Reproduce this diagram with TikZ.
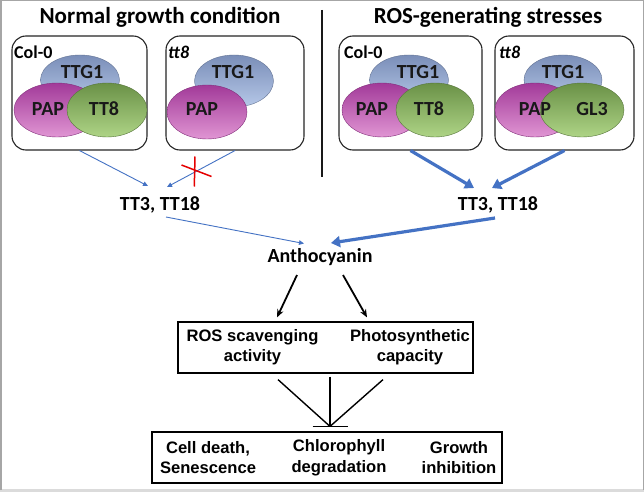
\documentclass[tikz,border=0pt]{standalone}
\usepackage{fontspec}
\setmainfont{Carlito}
\newfontfamily\arialf{Liberation Sans}
\usetikzlibrary{arrows.meta,shapes.geometric}
\definecolor{obl}{HTML}{4472C4}
\definecolor{ttgA}{HTML}{7A8EB8}
\definecolor{ttgB}{HTML}{B6C8E8}
\definecolor{papA}{HTML}{A23A99}
\definecolor{papB}{HTML}{E095D3}
\definecolor{grnA}{HTML}{6A9147}
\definecolor{grnB}{HTML}{AED486}
\begin{document}
\begin{tikzpicture}[x=1pt,y=-1pt,
  frame/.style={draw=black!85, line width=1.1pt, rounded corners=14pt, inner sep=0pt},
  ellbase/.style={ellipse, inner sep=0pt, shading angle=45, line width=0.4pt},
  ttg/.style={ellbase, draw=ttgA!80!black, top color=ttgA, bottom color=ttgB, minimum width=79pt, minimum height=50pt},
  pap/.style={ellbase, draw=papA!80!black, top color=papA, bottom color=papB, minimum width=84pt, minimum height=54pt},
  grn/.style={ellbase, draw=grnA!80!black, top color=grnA, bottom color=grnB, minimum width=80pt, minimum height=54pt},
  etxt/.style={font=\bfseries\fontsize{20}{22}\selectfont, text=black!90, inner sep=0pt},
  lbl/.style={font=\bfseries\fontsize{18}{20}\selectfont, inner sep=0pt, anchor=west},
  title/.style={font=\bfseries\fontsize{23}{26}\selectfont, inner sep=0pt},
  gene/.style={font=\bfseries\fontsize{20}{23}\selectfont, inner sep=0pt},
  thin/.style={draw=obl, line width=0.9pt, -{Triangle[length=5pt,width=4.5pt]}},
  thick/.style={draw=obl, line width=3.2pt, -{Triangle[length=9pt,width=11pt]}},
  blk/.style={draw=black, line width=1.8pt, -{Stealth[length=8pt,width=6.5pt]}},
  inhl/.style={draw=black, line width=1.4pt},
  btxt/.style={font=\arialf\bfseries\fontsize{16.6}{20.5}\selectfont, align=center, inner sep=0pt},
  sbox/.style={draw=black, line width=1.2pt, inner sep=0pt}
]
\useasboundingbox (0,0) rectangle (644,492);
\fill[white] (0,0) rectangle (644,492);
\fill[black!14] (0,488.5) rectangle (644,492);
\draw[black!35, line width=1.5pt] (0.75,490) -- (0.75,0.75) -- (643.25,0.75) -- (643.25,490);

% titles
\node[title] (t1) at (160,17) {Normal growth condition};
\node[title] (t2) at (488,17) {ROS-generating stresses};
\draw[black!90, line width=1.4pt] (322,10) -- (322,177);

% boxes
\node[frame, minimum width=135pt, minimum height=114pt] (b1) at (79.5,93) {};
\node[frame, minimum width=138pt, minimum height=114pt] (b2) at (235,93) {};
\node[frame, minimum width=143pt, minimum height=114pt] (b3) at (410.5,93) {};
\node[frame, minimum width=139pt, minimum height=114pt] (b4) at (564.5,93) {};

% box 1
\node[ttg] (e1a) at (80,80) {};
\node[pap, minimum width=86pt] (e1b) at (57,110) {};
\node[grn] (e1c) at (107,110) {};
\node[etxt] (l1a) at (82,72) {TTG1};
\node[etxt] (l1b) at (48,109) {PAP};
\node[etxt] (l1c) at (104,109) {TT8};
\node[lbl] (c1) at (14,52) {Col-0};

% box 2
\node[ttg, minimum height=52pt] (e2a) at (234,81) {};
\node[pap, minimum width=80pt] (e2b) at (207,112) {};
\node[etxt] (l2a) at (233,72) {TTG1};
\node[etxt] (l2b) at (202,109) {PAP};
\node[lbl] (c2) at (168,52) {\itshape tt8};

% box 3
\node[ttg] (e3a) at (409,80) {};
\node[pap, minimum width=80pt] (e3b) at (382,110) {};
\node[grn, minimum width=78pt] (e3c) at (435,110) {};
\node[etxt] (l3a) at (418,72) {TTG1};
\node[etxt] (l3b) at (372,109) {PAP};
\node[etxt] (l3c) at (429,109) {TT8};
\node[lbl] (c3) at (344,52) {Col-0};

% box 4
\node[ttg, minimum width=78pt] (e4a) at (563,80) {};
\node[pap, minimum width=80pt] (e4b) at (535,110) {};
\node[grn, minimum width=84pt] (e4c) at (582,110) {};
\node[etxt] (l4a) at (563,72) {TTG1};
\node[etxt] (l4b) at (535,109) {PAP};
\node[etxt] (l4c) at (592,109) {GL3};
\node[lbl] (c4) at (499,52) {\itshape tt8};

% genes
\node[gene] (tt3l) at (160,205) {TT3, TT18};
\node[gene] (tt3r) at (498,205) {TT3, TT18};
\node[gene] (anth) at (320,257) {Anthocyanin};

% blue arrows
\draw[thin] (b1.south) -- ([xshift=-12pt,yshift=19pt]tt3l.center);
\draw[thin] (b2.south) -- ([xshift=7pt,yshift=18pt]tt3l.center);
\draw[thick] (b3.south) -- ([xshift=-24pt,yshift=17pt]tt3r.center);
\draw[thick] (b4.south) -- ([xshift=-6pt,yshift=17pt]tt3r.center);
\draw[thin] ([xshift=6pt,yshift=-12pt]tt3l.center) -- ([xshift=-16pt,yshift=13.5pt]anth.center);
\draw[thick] ([xshift=-3pt,yshift=-13pt]tt3r.center) -- ([xshift=11pt,yshift=14pt]anth.center);

% red cross
\draw[red!90!black, line width=1.5pt] (181.5,165) -- (211.5,176.5);
\draw[red!90!black, line width=1.5pt] (195,156.5) -- (194.3,186.5);

% ROS box
\node[sbox, minimum width=295pt, minimum height=51pt] (rosbox) at (325.5,347.5) {};
\node[btxt] (r1) at (252.5,347) {ROS scavenging\\activity};
\node[btxt] (r2) at (410,347) {Photosynthetic\\capacity};
\draw[blk] ([xshift=-23pt,yshift=-18pt]anth.center) -- ([xshift=-48.5pt,yshift=4pt]rosbox.north);
\draw[blk] ([xshift=23pt,yshift=-18pt]anth.center) -- ([xshift=41.5pt,yshift=4pt]rosbox.north);

% bottom box
\node[sbox, minimum width=350pt, minimum height=51pt] (botbox) at (327,457.5) {};
\node[btxt] (o1) at (208,457.5) {Cell death,\\Senescence};
\node[btxt] (o2) at (339,457.5) {Chlorophyll\\degradation};
\node[btxt] (o3) at (459,457.5) {Growth\\inhibition};

% inhibition
\coordinate (inh) at ([xshift=3pt,yshift=5pt]botbox.north);
\draw[inhl] ([xshift=-47.5pt,yshift=-6pt]rosbox.south) -- (inh);
\draw[inhl] ([xshift=4.5pt,yshift=-3pt]rosbox.south) -- (inh);
\draw[inhl] ([xshift=57.5pt,yshift=-6pt]rosbox.south) -- (inh);
\draw[inhl] ([xshift=-17.5pt]inh) -- ([xshift=17.5pt]inh);
\end{tikzpicture}
\end{document}
